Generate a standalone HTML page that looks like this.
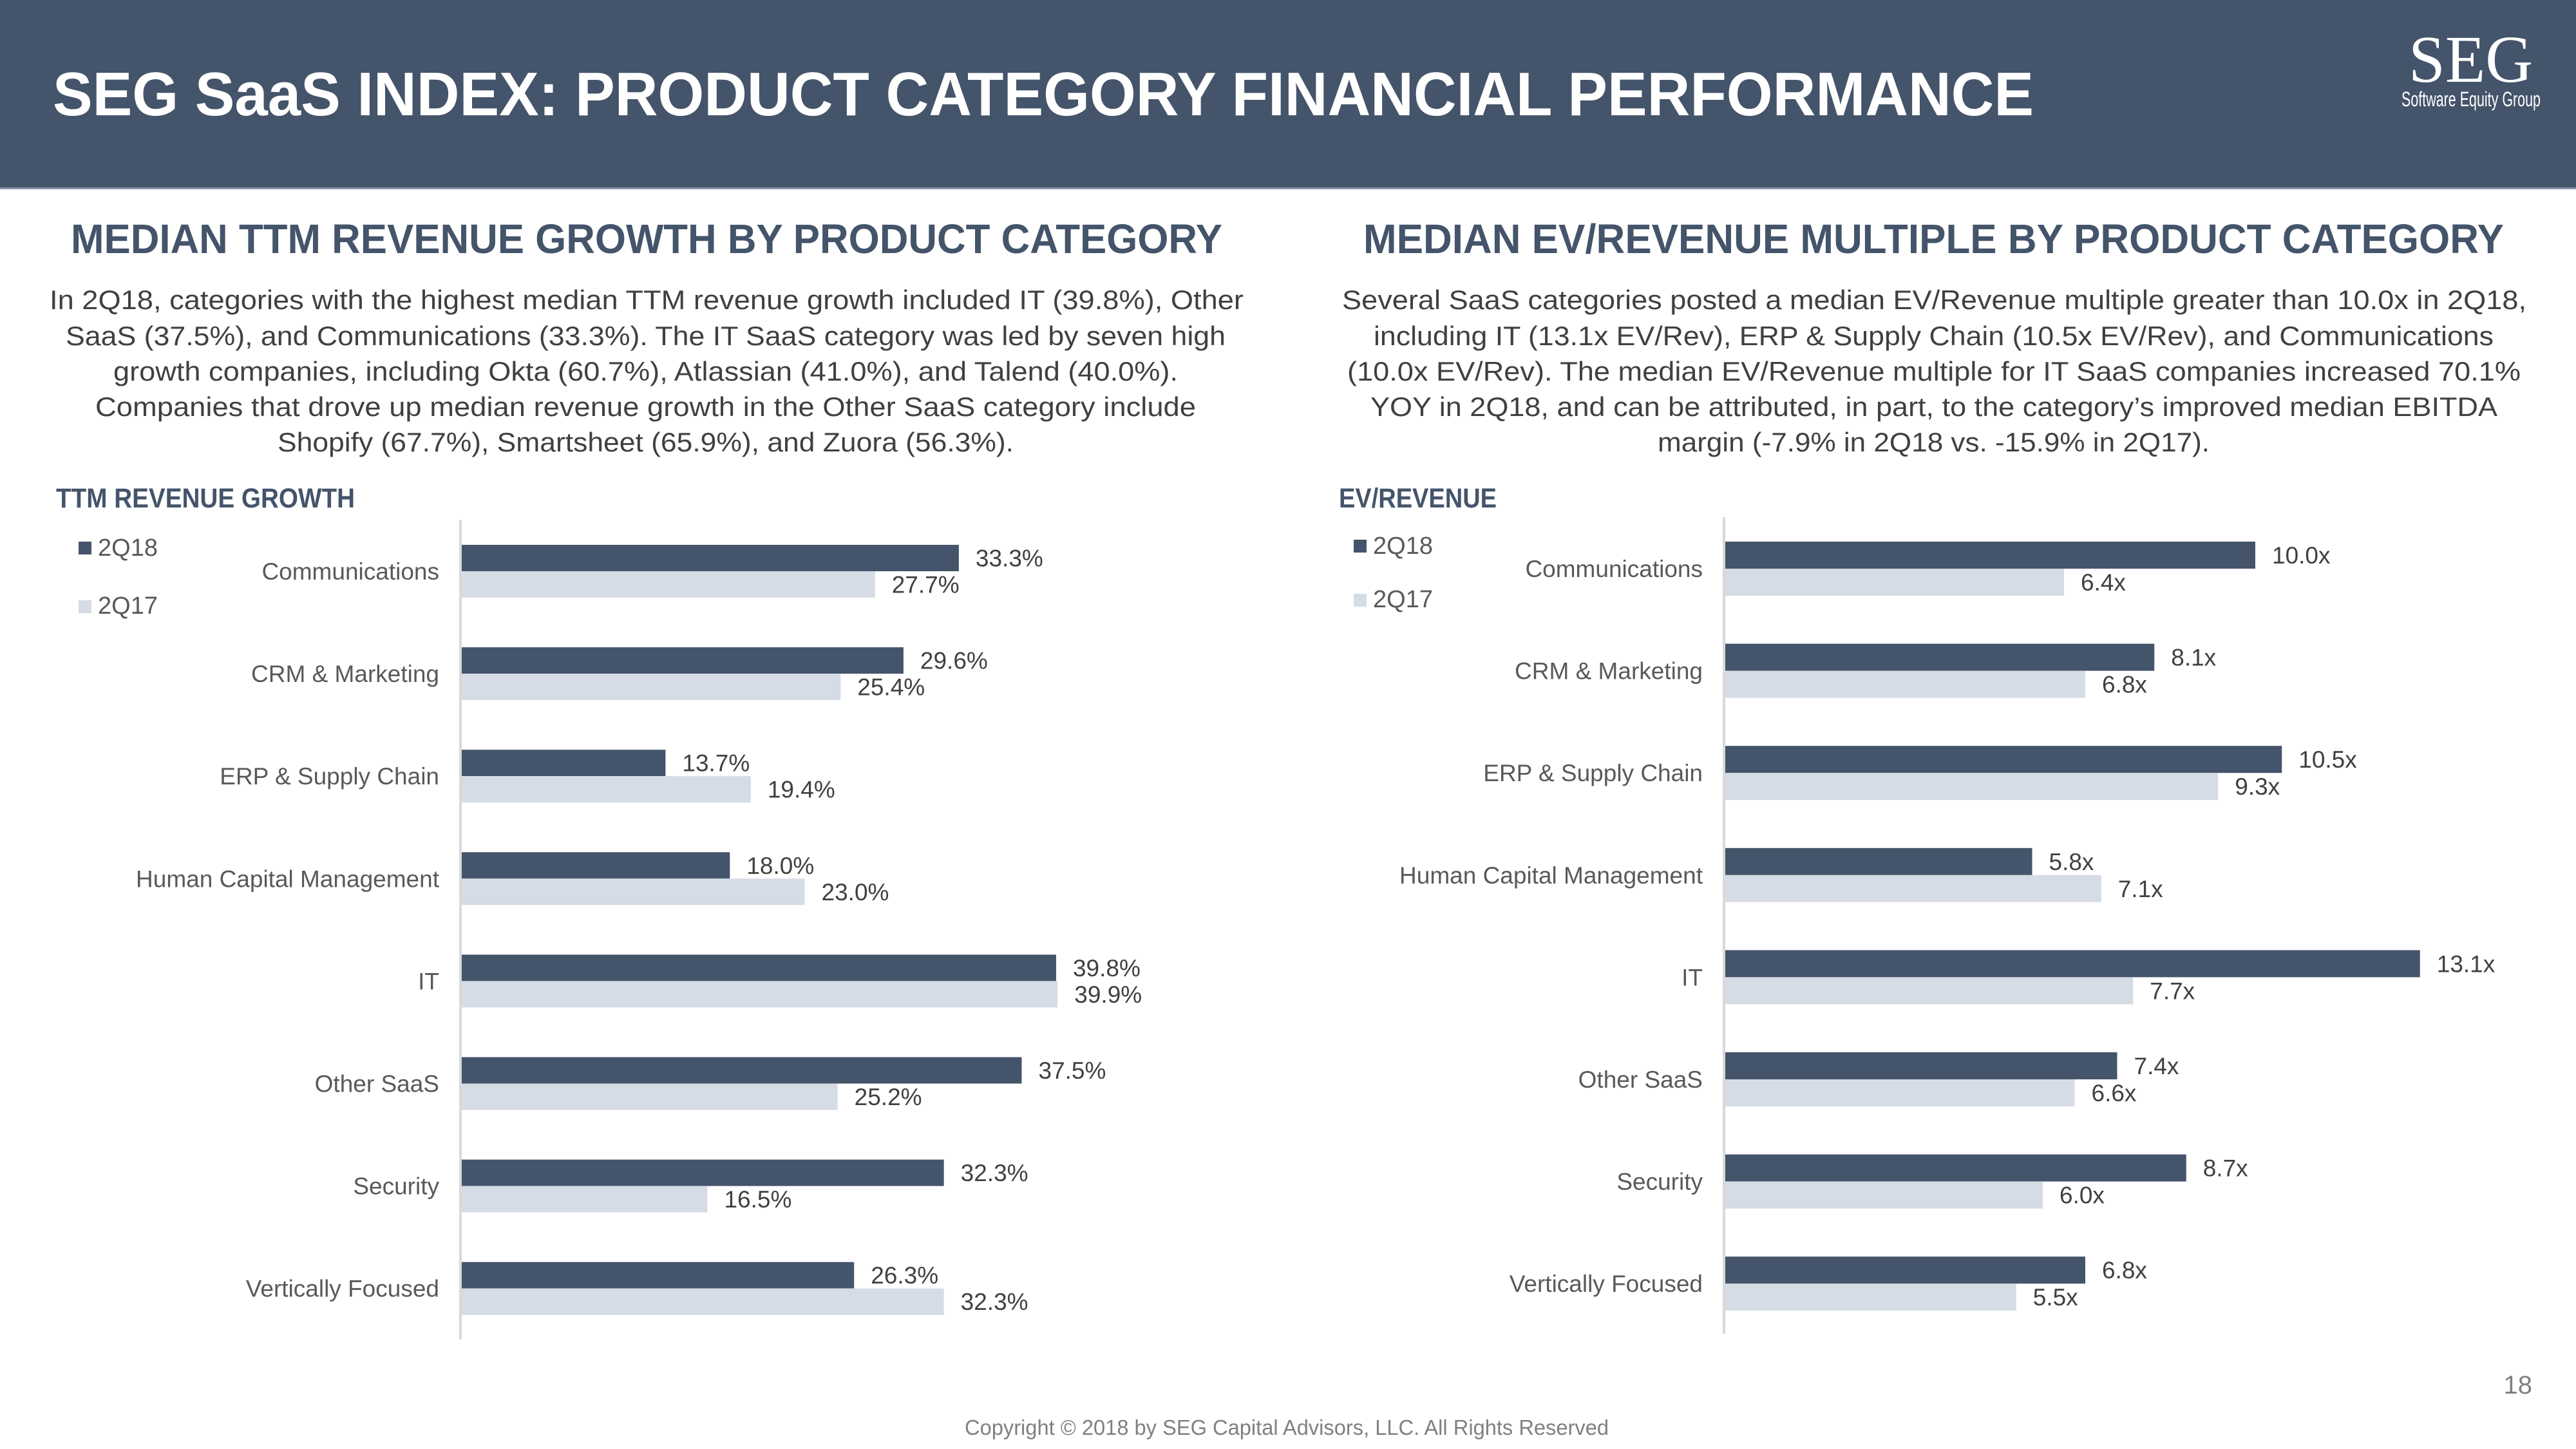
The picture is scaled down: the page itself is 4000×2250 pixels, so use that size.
<!DOCTYPE html>
<html><head><meta charset="utf-8"><style>
html,body{margin:0;padding:0;background:#fff;}
svg{display:block;font-family:"Liberation Sans",sans-serif;}
</style></head><body>
<svg id="page" width="4000" height="2250" viewBox="0 0 4000 2250" xmlns="http://www.w3.org/2000/svg">
<rect x="0" y="0" width="4000" height="293" fill="#44546a"/>
<rect x="0" y="291" width="4000" height="3" fill="#8b96a8"/>
<text x="82" y="179" font-size="96" font-weight="bold" fill="#fff" textLength="3076" lengthAdjust="spacingAndGlyphs">SEG SaaS INDEX: PRODUCT CATEGORY FINANCIAL PERFORMANCE</text>
<text x="3740" y="127" font-family="Liberation Serif,serif" font-size="104" fill="#fff" textLength="193" lengthAdjust="spacingAndGlyphs">SEG</text>
<text x="3729" y="165" font-size="32" fill="#fff" textLength="216" lengthAdjust="spacingAndGlyphs">Software Equity Group</text>

<text x="110" y="393" font-size="64" font-weight="bold" fill="#44546a" textLength="1788" lengthAdjust="spacingAndGlyphs">MEDIAN TTM REVENUE GROWTH BY PRODUCT CATEGORY</text>
<text x="2117" y="393" font-size="64" font-weight="bold" fill="#44546a" textLength="1771" lengthAdjust="spacingAndGlyphs">MEDIAN EV/REVENUE MULTIPLE BY PRODUCT CATEGORY</text>

<g font-size="42" fill="#404040">
<text x="77" y="480" textLength="1854" lengthAdjust="spacingAndGlyphs">In 2Q18, categories with the highest median TTM revenue growth included IT (39.8%), Other</text>
<text x="102" y="536" textLength="1801" lengthAdjust="spacingAndGlyphs">SaaS (37.5%), and Communications (33.3%). The IT SaaS category was led by seven high</text>
<text x="176" y="591" textLength="1653" lengthAdjust="spacingAndGlyphs">growth companies, including Okta (60.7%), Atlassian (41.0%), and Talend (40.0%).</text>
<text x="148" y="646" textLength="1709" lengthAdjust="spacingAndGlyphs">Companies that drove up median revenue growth in the Other SaaS category include</text>
<text x="431" y="701" textLength="1143" lengthAdjust="spacingAndGlyphs">Shopify (67.7%), Smartsheet (65.9%), and Zuora (56.3%).</text>
</g>
<g font-size="42" fill="#404040">
<text x="2084" y="480" textLength="1839" lengthAdjust="spacingAndGlyphs">Several SaaS categories posted a median EV/Revenue multiple greater than 10.0x in 2Q18,</text>
<text x="2133" y="536" textLength="1739" lengthAdjust="spacingAndGlyphs">including IT (13.1x EV/Rev), ERP &amp; Supply Chain (10.5x EV/Rev), and Communications</text>
<text x="2092" y="591" textLength="1822" lengthAdjust="spacingAndGlyphs">(10.0x EV/Rev). The median EV/Revenue multiple for IT SaaS companies increased 70.1%</text>
<text x="2128" y="646" textLength="1750" lengthAdjust="spacingAndGlyphs">YOY in 2Q18, and can be attributed, in part, to the category’s improved median EBITDA</text>
<text x="2574" y="701" textLength="857" lengthAdjust="spacingAndGlyphs">margin (-7.9% in 2Q18 vs. -15.9% in 2Q17).</text>
</g>

<text x="87" y="788" font-size="43" font-weight="bold" fill="#44546a" textLength="464" lengthAdjust="spacingAndGlyphs">TTM REVENUE GROWTH</text>
<text x="2079" y="788" font-size="43" font-weight="bold" fill="#44546a" textLength="245" lengthAdjust="spacingAndGlyphs">EV/REVENUE</text>

<g font-size="38" fill="#595959">
<rect x="122" y="841" width="20" height="20" fill="#44546a"/>
<text x="152" y="863">2Q18</text>
<rect x="122" y="932" width="20" height="20" fill="#d6dce5"/>
<text x="152" y="953">2Q17</text>
</g>
<g font-size="38" fill="#595959">
<rect x="2102" y="838" width="20" height="20" fill="#44546a"/>
<text x="2132" y="860">2Q18</text>
<rect x="2102" y="922" width="20" height="20" fill="#d6dce5"/>
<text x="2132" y="943">2Q17</text>
</g>

<g id="left-chart"></g>
<g id="right-chart"></g>

<text x="3932" y="2164" font-size="40" fill="#808080" text-anchor="end">18</text>
<text x="1998" y="2228" font-size="33" fill="#808080" text-anchor="middle" textLength="1000" lengthAdjust="spacingAndGlyphs">Copyright © 2018 by SEG Capital Advisors, LLC. All Rights Reserved</text>
</svg>
<script>
const categories = ["Communications","CRM & Marketing","ERP & Supply Chain","Human Capital Management","IT","Other SaaS","Security","Vertically Focused"];
const growth2Q18 = [33.3,29.6,13.7,18.0,39.8,37.5,32.3,26.3];
const growth2Q17 = [27.7,25.4,19.4,23.0,39.9,25.2,16.5,32.3];
const evRev2Q18 = [10.0,8.1,10.5,5.8,13.1,7.4,8.7,6.8];
const evRev2Q17 = [6.4,6.8,9.3,7.1,7.7,6.6,6.0,5.5];

const NS = "http://www.w3.org/2000/svg";
function mk(tag, attrs, parent){const e=document.createElementNS(NS,tag);for(const k in attrs)e.setAttribute(k,attrs[k]);parent.appendChild(e);return e;}

function drawChart(g, cfg, a, b, fmt){
  const xs = v => cfg.x0 + v*cfg.scale;
  const line = mk('line',{x1:cfg.x0,x2:cfg.x0,y1:cfg.axisTop,y2:cfg.axisBot,stroke:'#d9d9d9','stroke-width':4},g);
  
  
  categories.forEach((c,i)=>{
    const top = cfg.top + i*cfg.step;
    const lbl = mk('text',{x:cfg.x0-33,y:top+cfg.bh+13,'font-size':37,fill:'#595959','text-anchor':'end'},g);
    
    
    lbl.textContent = c;
    [[a,'#44546a',0,'2q18'],[b,'#d6dce5',1,'2q17']].forEach(([arr,col,k,s])=>{
      const y = top + k*cfg.bh;
      const r = mk('rect',{x:cfg.x0+2,y:y,width:Math.max(0,xs(arr[i])-cfg.x0-2),height:cfg.bh,fill:col},g);
      
      
      const t = mk('text',{x:xs(arr[i])+26,y:y+cfg.bh/2+13,'font-size':37,fill:'#404040'},g);
      
      
      t.textContent = fmt(arr[i]);
    });
  });
}
drawChart(document.getElementById('left-chart'),{x0:715,scale:23.24,top:846,step:159.1,bh:41,axisTop:807,axisBot:2080},growth2Q18,growth2Q17,v=>v.toFixed(1)+'%');
drawChart(document.getElementById('right-chart'),{x0:2677,scale:82.5,top:841,step:158.6,bh:42,axisTop:803,axisBot:2071},evRev2Q18,evRev2Q17,v=>v.toFixed(1)+'x');
</script>
</body></html>
